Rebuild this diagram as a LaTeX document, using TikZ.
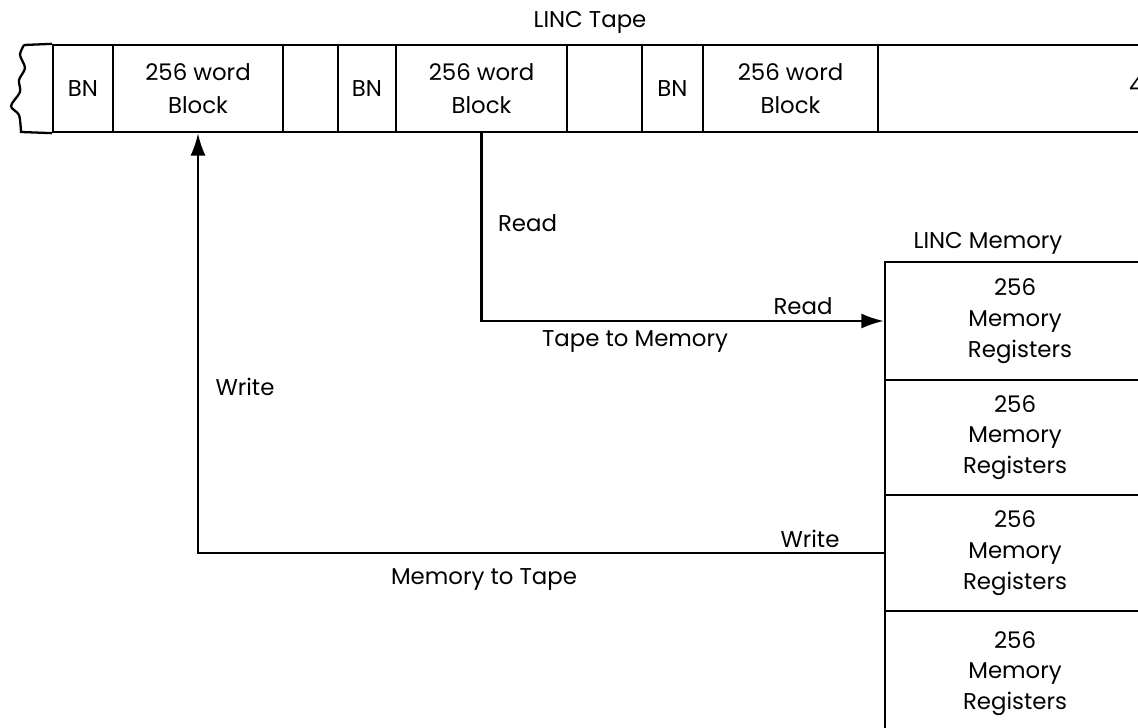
\documentclass[tikz,border=0pt]{standalone}
\usepackage{fontspec}
\setmainfont{Poppins}
\usetikzlibrary{arrows.meta}
\begin{document}
\begin{tikzpicture}[line width=1.3pt, font=\fontsize{13}{18.5}\selectfont,
  cell/.style={draw, rectangle, minimum height=1.74cm, inner sep=0pt, align=center},
  membox/.style={draw, rectangle, minimum width=5.2cm, inner sep=0pt, align=center, font=\fontsize{13}{17.5}\selectfont},
  flow/.style={-{Latex[length=0.45cm,width=0.3cm]}}]
\useasboundingbox (0,0) rectangle (22.76,-14.56);
% tape
\node at (11.8,-0.44) (tapelabel) {LINC Tape};
\node[cell, minimum width=1.2cm] (bn1) at (1.66,-1.77) {BN};
\node[cell, minimum width=3.4cm] (blk1) at (3.96,-1.77) {256 word\\Block};
\node[cell, minimum width=1.1cm] (gap1) at (6.21,-1.77) {};
\node[cell, minimum width=1.16cm] (bn2) at (7.34,-1.77) {BN};
\node[cell, minimum width=3.42cm] (blk2) at (9.63,-1.77) {256 word\\Block};
\node[cell, minimum width=1.5cm] (gap2) at (12.09,-1.77) {};
\node[cell, minimum width=1.22cm] (bn3) at (13.45,-1.77) {BN};
\node[cell, minimum width=3.5cm] (blk3) at (15.81,-1.77) {256 word\\Block};
\node[cell, minimum width=6.2cm] (rest) at (20.66,-1.77) {};
\node[anchor=west, inner sep=0pt] (cut) at (22.56,-1.7) {4};
% torn end
\draw (bn1.north west) -- (0.48,-0.9)
  plot[smooth] coordinates {(0.48,-0.9) (0.4,-1.1) (0.5,-1.36) (0.38,-1.6) (0.4,-1.84) (0.22,-2.12) (0.38,-2.3) (0.42,-2.64)}
  -- (bn1.south west);
% memory
\node at (19.76,-4.86) (memlabel) {LINC Memory};
\node[membox, minimum height=2.36cm] (mem1) at (20.3,-6.42) {256\\Memory\\\ \,Registers};
\node[membox, minimum height=2.3cm] (mem2) at (20.3,-8.75) {256\\Memory\\Registers};
\node[membox, minimum height=2.32cm] (mem3) at (20.3,-11.06) {256\\Memory\\Registers};
\node[membox, minimum height=2.5cm] (mem4) at (20.3,-13.47) {256\\Memory\\Registers};
% read path
\draw[flow] (blk2.south) |- (mem1.west);
\node[anchor=west] (rd1) at (9.82,-4.46) {Read};
\node[anchor=base] (rd2) at (16.06,-6.3) {Read};
\node (t2m) at (12.7,-6.84) {Tape to Memory};
% write path
\draw[flow] (mem3.west) -| (blk1.south);
\node (wr1) at (4.9,-7.74) {Write};
\node[anchor=base] (wr2) at (16.2,-10.94) {Write};
\node (m2t) at (9.68,-11.6) {Memory to Tape};
\end{tikzpicture}
\end{document}
